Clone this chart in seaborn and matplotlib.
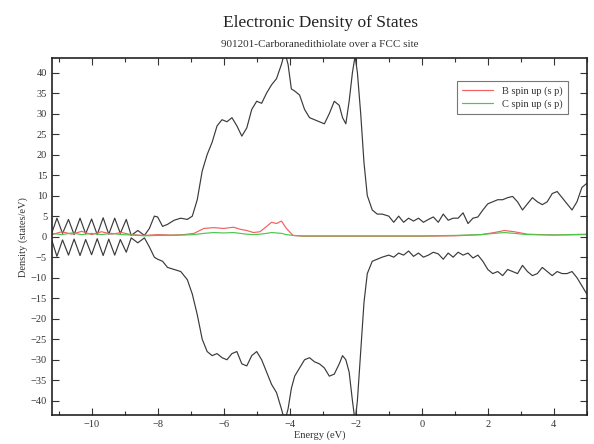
import matplotlib
matplotlib.use("Agg")
import matplotlib.pyplot as plt
import numpy as np
import pandas as pd
import seaborn as sns
from matplotlib.ticker import MultipleLocator

# total DOS, spin up (positive) and spin down (negative)
energy = [-11.2, -11.05, -10.88, -10.7, -10.53, -10.35, -10.18, -10.0, -9.83, -9.65,
          -9.48, -9.3, -9.13, -8.95, -8.8, -8.6, -8.4, -8.25,
          -8.1, -8.0, -7.85, -7.7, -7.5, -7.3, -7.1, -6.95, -6.8, -6.65,
          -6.5, -6.35, -6.2, -6.05, -5.9, -5.75, -5.6, -5.45, -5.3, -5.15,
          -5.0, -4.85, -4.7, -4.55, -4.4, -4.25, -4.15, -4.05, -3.95, -3.85,
          -3.7, -3.55, -3.4, -3.25, -3.1, -2.95, -2.8, -2.65, -2.5, -2.4,
          -2.3, -2.2, -2.1, -2.02, -1.95, -1.85, -1.75, -1.65, -1.5, -1.35,
          -1.2, -1.0, -0.85, -0.7, -0.55, -0.4, -0.25, -0.1, 0.05, 0.2,
          0.35, 0.5, 0.65, 0.8, 0.95, 1.1, 1.25, 1.4, 1.55, 1.7,
          1.85, 2.0, 2.15, 2.3, 2.45, 2.6, 2.75, 2.9, 3.05, 3.2,
          3.35, 3.5, 3.65, 3.8, 3.95, 4.1, 4.25, 4.4, 4.55, 4.7,
          4.85, 5.0]
total_up = [1.0, 4.5, 0.8, 4.2, 0.5, 4.5, 0.7, 4.3, 0.5, 4.6,
            0.6, 4.5, 0.8, 4.2, 0.3, 1.5, 0.3, 2.0,
            5.0, 4.8, 2.5, 3.0, 4.0, 4.5, 4.2, 5.0, 9.0, 16.0,
            20.0, 23.0, 27.0, 28.5, 28.0, 29.0, 27.0, 24.5, 26.5, 31.0,
            33.0, 32.5, 35.0, 37.0, 38.5, 42.0, 45.0, 42.0, 36.0, 35.5,
            34.5, 31.0, 29.0, 28.5, 28.0, 27.5, 30.0, 33.0, 32.0, 29.0,
            27.5, 33.0, 40.0, 44.0, 40.0, 30.0, 18.0, 10.0, 6.5, 5.5,
            5.5, 5.0, 3.5, 5.0, 3.5, 4.5, 3.8, 4.5, 3.5, 4.2,
            4.8, 3.5, 5.5, 4.0, 4.5, 4.5, 5.8, 3.2, 4.5, 4.8,
            6.5, 8.0, 8.5, 9.0, 9.0, 9.5, 9.8, 8.5, 6.5, 8.0,
            9.5, 8.5, 7.8, 8.5, 10.5, 11.0, 9.5, 8.0, 6.5, 8.5,
            12.0, 13.0]
total_down = [-1.0, -4.8, -0.8, -4.5, -0.6, -4.6, -0.7, -4.4, -0.5, -4.6,
              -0.6, -4.5, -0.7, -3.8, -0.3, -1.5, -0.3, -2.5,
              -5.0, -5.5, -6.0, -7.5, -8.0, -8.5, -10.5, -14.0, -19.0, -25.0,
              -28.0, -29.0, -28.5, -29.5, -30.0, -28.5, -28.0, -31.0, -31.5, -29.0,
              -28.0, -30.0, -33.0, -36.0, -38.0, -42.0, -45.0, -42.0, -37.0, -34.0,
              -32.0, -30.0, -29.5, -30.5, -31.0, -32.0, -34.0, -33.5, -31.0, -29.0,
              -30.0, -33.0, -40.0, -45.0, -40.0, -28.0, -16.0, -9.0, -6.0, -5.5,
              -5.0, -4.5, -5.0, -4.0, -4.5, -3.5, -4.8, -4.0, -5.0, -4.5,
              -3.8, -4.2, -5.5, -4.0, -5.0, -3.8, -4.5, -4.0, -5.2, -4.5,
              -6.0, -8.0, -9.0, -8.5, -9.5, -8.0, -8.5, -9.0, -7.0, -8.5,
              -9.5, -9.0, -7.5, -8.5, -9.5, -8.5, -9.0, -9.0, -8.5, -10.0,
              -12.0, -14.0]

# projected DOS
energy_pdos = [-11.2, -10.9, -10.6, -10.3, -10.0, -9.7, -9.4, -9.1, -8.8, -8.4,
               -8.0, -7.6, -7.2, -6.9, -6.6, -6.3, -6.0, -5.7, -5.5, -5.3,
               -5.1, -4.9, -4.7, -4.55, -4.4, -4.25, -4.1, -3.9, -3.6, -3.0,
               -2.0, -1.0, 0.0, 1.0, 1.8, 2.2, 2.5, 2.8, 3.2, 4.0, 5.0]
b_spin_up = [0.5, 1.2, 0.6, 1.3, 0.5, 1.2, 0.6, 1.0, 0.5, 0.3,
             0.5, 0.4, 0.5, 0.8, 2.0, 2.2, 2.0, 2.3, 1.8, 1.5,
             1.0, 1.2, 2.5, 3.5, 3.2, 3.8, 2.0, 0.3, 0.1, 0.1,
             0.1, 0.1, 0.1, 0.2, 0.5, 1.0, 1.5, 1.2, 0.6, 0.4, 0.5]
c_spin_up = [0.8, 0.5, 0.9, 0.5, 0.8, 0.5, 0.8, 0.5, 0.4, 0.2,
             0.3, 0.3, 0.4, 0.5, 0.8, 1.0, 0.9, 1.0, 0.8, 0.6,
             0.5, 0.6, 0.8, 1.0, 0.9, 0.8, 0.5, 0.3, 0.2, 0.2,
             0.2, 0.2, 0.2, 0.3, 0.5, 0.8, 1.0, 0.8, 0.5, 0.4, 0.6]

sns.set_style("ticks")
plt.rcParams['font.family'] = ['Liberation Serif', 'DejaVu Serif']

fig = plt.figure(figsize=(5.94, 4.44), dpi=100)
ax = fig.add_axes([0.0875, 0.065, 0.9005, 0.804])

tot = pd.DataFrame({'energy': energy, 'up': total_up, 'down': total_down})
pdos = pd.DataFrame({'energy': energy_pdos, 'B': b_spin_up, 'C': c_spin_up})

sns.lineplot(data=tot, x='energy', y='up', ax=ax, color='#3a3a3a',
             linewidth=0.85, estimator=None, sort=False)
sns.lineplot(data=tot, x='energy', y='down', ax=ax, color='#3a3a3a',
             linewidth=0.85, estimator=None, sort=False)
sns.lineplot(data=pdos, x='energy', y='B', ax=ax, color='#f26060',
             linewidth=0.85, estimator=None, sort=False, label='B spin up (s p)')
sns.lineplot(data=pdos, x='energy', y='C', ax=ax, color='#4cc64c',
             linewidth=0.85, estimator=None, sort=False, label='C spin up (s p)')

ax.set_xlim(-11.2, 5.0)
ax.set_ylim(-43.5, 43.5)
ax.xaxis.set_major_locator(MultipleLocator(2))
ax.xaxis.set_minor_locator(MultipleLocator(1))
ax.yaxis.set_major_locator(MultipleLocator(5))
ax.tick_params(which='both', direction='in', top=True, right=True,
               labelsize=7.5, width=0.8, colors='#333333')
ax.tick_params(which='major', length=5)
ax.tick_params(which='minor', length=3)
for sp in ax.spines.values():
    sp.set_linewidth(1.2)
    sp.set_color('#222222')

ax.set_xlabel('Energy (eV)', fontsize=7.5, labelpad=1, color='#333333')
ax.set_ylabel('Density (states/eV)', fontsize=7.5, labelpad=2, color='#333333')

leg = ax.legend(loc='upper right', bbox_to_anchor=(0.975, 0.95), fontsize=7.5,
                frameon=True, fancybox=False, handlelength=3.0,
                borderpad=0.5, labelspacing=0.3, handletextpad=0.9)
leg.get_frame().set_edgecolor('#555555')
leg.get_frame().set_linewidth(0.8)
for t in leg.get_texts():
    t.set_color('#333333')

fig.text(0.539, 0.948, 'Electronic Density of States', ha='center',
         va='center', fontsize=12.5, color='#222222')
fig.text(0.539, 0.9, '901201-Carboranedithiolate over a FCC site',
         ha='center', va='center', fontsize=8, color='#333333')

fig.savefig('out.png', dpi=100)
